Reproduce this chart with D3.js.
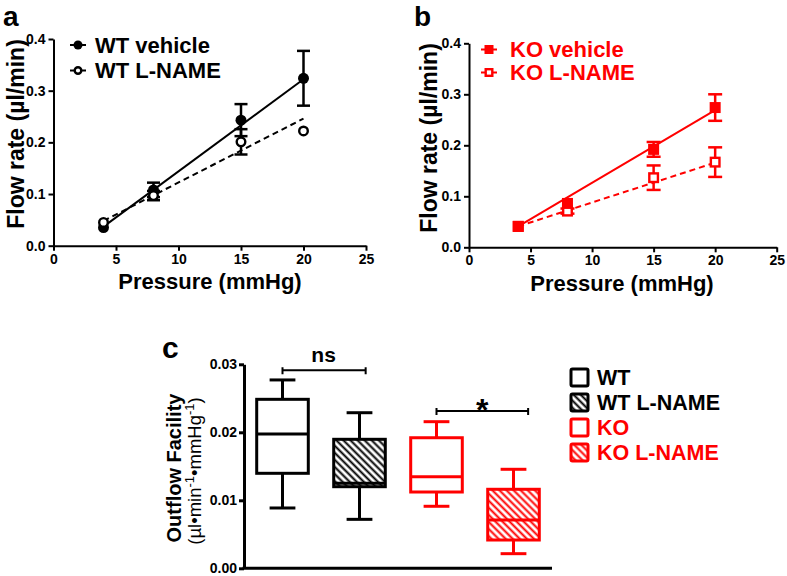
<!DOCTYPE html>
<html><head><meta charset="utf-8">
<script src="https://cdn.jsdelivr.net/npm/d3@7"></script>
<style>body{margin:0;background:#fff} svg{display:block} text{font-family:"Liberation Sans",Arial,Helvetica,sans-serif}</style>
</head><body><svg id="chart" width="787" height="576"></svg>
<script>
// ---------- data ----------
const pressure = [4, 8, 15, 20];
const xTicks = [0, 5, 10, 15, 20, 25];
const yTicksFlow = [0, 0.1, 0.2, 0.3, 0.4];
const fitRange = [4, 20];

const wtVehicle = [0.035, 0.108, 0.243, 0.324];
const wtVehicleErr = [0, 0.014, 0.031, 0.053];
const wtLname = [0.045, 0.097, 0.201, 0.222];
const wtLnameErr = [0, 0.009, 0.0245, 0];
const wtVehicleFit = [0.037, 0.322];
const wtLnameFit = [0.048, 0.246];

const koVehicle = [0.041, 0.086, 0.192, 0.274];
const koVehicleErr = [0, 0, 0.0145, 0.026];
const koLname = [0.041, 0.071, 0.1365, 0.167];
const koLnameErr = [0, 0.005, 0.024, 0.029];
const koVehicleFit = [0.041, 0.269];
const koLnameFit = [0.041, 0.166];

const groups = ["WT", "WT L-NAME", "KO", "KO L-NAME"];
const groupColors = ["#000000", "#000000", "#ff0000", "#ff0000"];
const groupHatched = [false, true, false, true];
const whiskerLow = [0.00887, 0.0072, 0.00912, 0.00215];
const q1 = [0.01397, 0.0120, 0.01122, 0.00416];
const median = [0.01975, 0.0125, 0.01347, 0.0071];
const q3 = [0.02485, 0.01897, 0.0192, 0.01162];
const whiskerHigh = [0.0277, 0.02288, 0.02156, 0.01456];
const yTicksFacility = [0, 0.01, 0.02, 0.03];
const brackets = [
  {from: 0, to: 1.08, y: 0.02912, label: "ns"},
  {from: 2, to: 3.19, y: 0.02313, label: "*"}
];

// ---------- setup ----------
const svg = d3.select("#chart");
const RED = "#ff0000";
const defs = svg.append("defs");
[["hatchBlack", "#000"], ["hatchRed", RED]].forEach(([id, col]) => {
  const p = defs.append("pattern").attr("id", id).attr("patternUnits", "userSpaceOnUse")
    .attr("width", 5).attr("height", 5).attr("patternTransform", "rotate(-45)");
  p.append("rect").attr("width", 5).attr("height", 5).attr("fill", "#fff");
  p.append("line").attr("x1", 1.5).attr("y1", 0).attr("x2", 1.5).attr("y2", 5)
    .attr("stroke", col).attr("stroke-width", 2);
});

function styleAxis(g, sw) {
  g.select(".domain").attr("stroke", "#000").attr("stroke-width", sw);
  g.selectAll(".tick line").attr("stroke", "#000").attr("stroke-width", sw);
  g.selectAll(".tick text").attr("fill", "#000").style("font-size", "14px").style("font-weight", "bold")
    .style("font-family", '"Liberation Sans",Arial,sans-serif');
}

function xyPanel(opt) {
  const x = d3.scaleLinear().domain([0, 25]).range(opt.xr);
  const y = d3.scaleLinear().domain([0, 0.4]).range(opt.yr);
  const g = svg.append("g");
  const gx = g.append("g").attr("transform", `translate(0,${opt.yr[0]})`)
    .call(d3.axisBottom(x).tickValues(xTicks).tickSize(5).tickSizeOuter(0).tickPadding(3).tickFormat(d3.format("d")));
  styleAxis(gx, 2);
  const gy = g.append("g").attr("transform", `translate(${opt.xr[0]},0)`)
    .call(d3.axisLeft(y).tickValues(yTicksFlow).tickSize(5).tickSizeOuter(0).tickPadding(3).tickFormat(d3.format(".1f")));
  styleAxis(gy, 2);

  // fit lines
  opt.series.forEach(s => {
    g.append("line").attr("x1", x(fitRange[0])).attr("x2", x(fitRange[1]))
      .attr("y1", y(s.fit[0])).attr("y2", y(s.fit[1]))
      .attr("stroke", opt.color).attr("stroke-width", 2)
      .attr("stroke-dasharray", s.dashed ? "6,4" : null);
  });
  // error bars + markers
  opt.series.forEach(s => {
    pressure.forEach((p, i) => {
      const e = s.err[i];
      if (e > 0) {
        const cx = x(p), cap = opt.cap;
        g.append("line").attr("x1", cx).attr("x2", cx).attr("y1", y(s.vals[i] - e)).attr("y2", y(s.vals[i] + e))
          .attr("stroke", opt.color).attr("stroke-width", 2.5);
        [s.vals[i] - e, s.vals[i] + e].forEach(v => {
          g.append("line").attr("x1", cx - cap).attr("x2", cx + cap).attr("y1", y(v)).attr("y2", y(v))
            .attr("stroke", opt.color).attr("stroke-width", 2.5);
        });
      }
    });
  });
  opt.drawOrder.forEach(k => {
    const s = opt.series[k];
    pressure.forEach((p, i) => drawMarker(g, opt.shape, x(p), y(s.vals[i]), s.filled, opt.color, opt.msize));
  });
  // legend
  opt.series.forEach((s, k) => {
    const ly = opt.legY[k];
    g.append("line").attr("x1", opt.legX - 8).attr("x2", opt.legX + 8).attr("y1", ly).attr("y2", ly)
      .attr("stroke", opt.color).attr("stroke-width", 2);
    drawMarker(g, opt.shape, opt.legX, ly, s.filled, opt.color, opt.legSize);
    g.append("text").attr("x", opt.legTextX).attr("y", ly + 7.5).text(s.name)
      .attr("fill", opt.color).style("font-size", "22px").style("font-weight", "bold");
  });
  // titles
  g.append("text").attr("transform", `translate(${opt.yTitleX},${opt.yTitleY}) rotate(-90)`)
    .attr("text-anchor", "middle").text("Flow rate (\u00b5l/min)")
    .style("font-size", "23px").style("font-weight", "bold");
  g.append("text").attr("x", opt.xTitleX).attr("y", opt.xTitleY).attr("text-anchor", "middle")
    .text("Pressure (mmHg)").style("font-size", "22px").style("font-weight", "bold");
  g.append("text").attr("x", opt.labelX).attr("y", opt.labelY).text(opt.label)
    .style("font-size", "28px").style("font-weight", "bold");
}

function drawMarker(g, shape, cx, cy, filled, color, size) {
  if (shape === "circle") {
    g.append("circle").attr("cx", cx).attr("cy", cy).attr("r", filled ? size / 2 : size / 2 - 1.2)
      .attr("fill", filled ? color : "#fff").attr("stroke", color).attr("stroke-width", filled ? 0 : 2.4);
  } else {
    const h = filled ? size / 2 : size / 2 - 1.2;
    g.append("rect").attr("x", cx - h).attr("y", cy - h).attr("width", 2 * h).attr("height", 2 * h)
      .attr("fill", filled ? color : "#fff").attr("stroke", color).attr("stroke-width", filled ? 0 : 2.4);
  }
}

xyPanel({
  xr: [53.5, 366], yr: [245.7, 39], color: "#000", shape: "circle", msize: 11, cap: 6.5,
  series: [
    {name: "WT vehicle", vals: wtVehicle, err: wtVehicleErr, fit: wtVehicleFit, filled: true, dashed: false},
    {name: "WT L-NAME", vals: wtLname, err: wtLnameErr, fit: wtLnameFit, filled: false, dashed: true}
  ],
  drawOrder: [0, 1],
  legX: 78, legY: [45, 70.5], legSize: 9, legTextX: 95,
  yTitleX: 24, yTitleY: 134, xTitleX: 210, xTitleY: 289, label: "a", labelX: 3, labelY: 26
});
xyPanel({
  xr: [469, 776.7], yr: [247.3, 43.3], color: RED, shape: "square", msize: 11, cap: 7,
  series: [
    {name: "KO vehicle", vals: koVehicle, err: koVehicleErr, fit: koVehicleFit, filled: true, dashed: false},
    {name: "KO L-NAME", vals: koLname, err: koLnameErr, fit: koLnameFit, filled: false, dashed: true}
  ],
  drawOrder: [1, 0],
  legX: 489, legY: [49.5, 72.5], legSize: 9, legTextX: 510,
  yTitleX: 437, yTitleY: 138, xTitleX: 622, xTitleY: 291, label: "b", labelX: 414, labelY: 26
});

// ---------- panel c ----------
(function () {
  const xr = [244, 552];
  const yS = d3.scaleLinear().domain([0, 0.03]).range([568.3, 364.3]);
  const xb = d3.scaleBand().domain(groups).range(xr).paddingInner(0.33).paddingOuter(0.165);
  const xi = d3.scaleLinear().domain([0, 1]).range([xb(groups[0]) + xb.bandwidth() / 2, xb(groups[1]) + xb.bandwidth() / 2]);
  const g = svg.append("g");
  const gy = g.append("g").attr("transform", `translate(${xr[0]},0)`)
    .call(d3.axisLeft(yS).tickValues(yTicksFacility).tickSize(5).tickSizeOuter(0).tickPadding(2).tickFormat(d3.format(".2f")));
  styleAxis(gy, 3);
  g.append("line").attr("x1", xr[0] - 1.5).attr("x2", xr[1]).attr("y1", yS(0)).attr("y2", yS(0))
    .attr("stroke", "#000").attr("stroke-width", 3);

  const bw = xb.bandwidth();
  groups.forEach((name, i) => {
    const col = groupColors[i];
    const cx = xb(name) + bw / 2;
    const x0 = xb(name);
    const cap = bw * 0.25;
    const fill = groupHatched[i] ? (col === RED ? "url(#hatchRed)" : "url(#hatchBlack)") : "#fff";
    g.append("line").attr("x1", cx).attr("x2", cx).attr("y1", yS(whiskerLow[i])).attr("y2", yS(whiskerHigh[i]))
      .attr("stroke", col).attr("stroke-width", 3);
    [whiskerLow[i], whiskerHigh[i]].forEach(v => g.append("line").attr("x1", cx - cap).attr("x2", cx + cap)
      .attr("y1", yS(v)).attr("y2", yS(v)).attr("stroke", col).attr("stroke-width", 3));
    g.append("rect").attr("x", x0).attr("y", yS(q3[i])).attr("width", bw).attr("height", yS(q1[i]) - yS(q3[i]))
      .attr("fill", fill).attr("stroke", col).attr("stroke-width", 3);
    g.append("line").attr("x1", x0).attr("x2", x0 + bw).attr("y1", yS(median[i])).attr("y2", yS(median[i]))
      .attr("stroke", col).attr("stroke-width", 3);
  });

  brackets.forEach(b => {
    const x1 = xi(b.from), x2 = xi(b.to), yy = yS(b.y);
    g.append("path").attr("d", `M${x1},${yy + 4}V${yy - 3}M${x1},${yy}H${x2}M${x2},${yy + 4}V${yy - 3}`)
      .attr("stroke", "#000").attr("stroke-width", 2).attr("fill", "none");
    if (b.label === "*") {
      g.append("text").attr("x", (x1 + x2) / 2).attr("y", yy + 10).attr("text-anchor", "middle").text(b.label)
        .style("font-size", "32px").style("font-weight", "bold");
    } else {
      g.append("text").attr("x", (x1 + x2) / 2 - 0.5).attr("y", yy - 8).attr("text-anchor", "middle").text(b.label)
        .style("font-size", "21px").style("font-weight", "bold");
    }
  });

  // y titles
  g.append("text").attr("transform", `translate(181,468) rotate(-90)`).attr("text-anchor", "middle")
    .text("Outflow Facility").style("font-size", "20px").style("font-weight", "bold");
  const t2 = g.append("text").attr("transform", `translate(201,471) rotate(-90)`).attr("text-anchor", "middle")
    .style("font-size", "18.5px");
  t2.append("tspan").text("(\u00b5l\u2022min");
  t2.append("tspan").attr("dy", -7).style("font-size", "13px").text("-1");
  t2.append("tspan").attr("dy", 7).text("\u2022mmHg");
  t2.append("tspan").attr("dy", -7).style("font-size", "13px").text("-1");
  t2.append("tspan").attr("dy", 7).text(")");

  g.append("text").attr("x", 162).attr("y", 358).text("c").style("font-size", "30px").style("font-weight", "bold");

  // legend
  groups.forEach((name, i) => {
    const ly = 369 + i * 25;
    const col = groupColors[i];
    const fill = groupHatched[i] ? (col === RED ? "url(#hatchRed)" : "url(#hatchBlack)") : "#fff";
    g.append("rect").attr("x", 571).attr("y", ly).attr("width", 17).attr("height", 17).attr("rx", 1.5)
      .attr("fill", fill).attr("stroke", col).attr("stroke-width", 3);
    g.append("text").attr("x", 597).attr("y", ly + 16).text(name).attr("fill", col)
      .style("font-size", "21.5px").style("font-weight", "bold");
  });
})();
</script></body></html>
